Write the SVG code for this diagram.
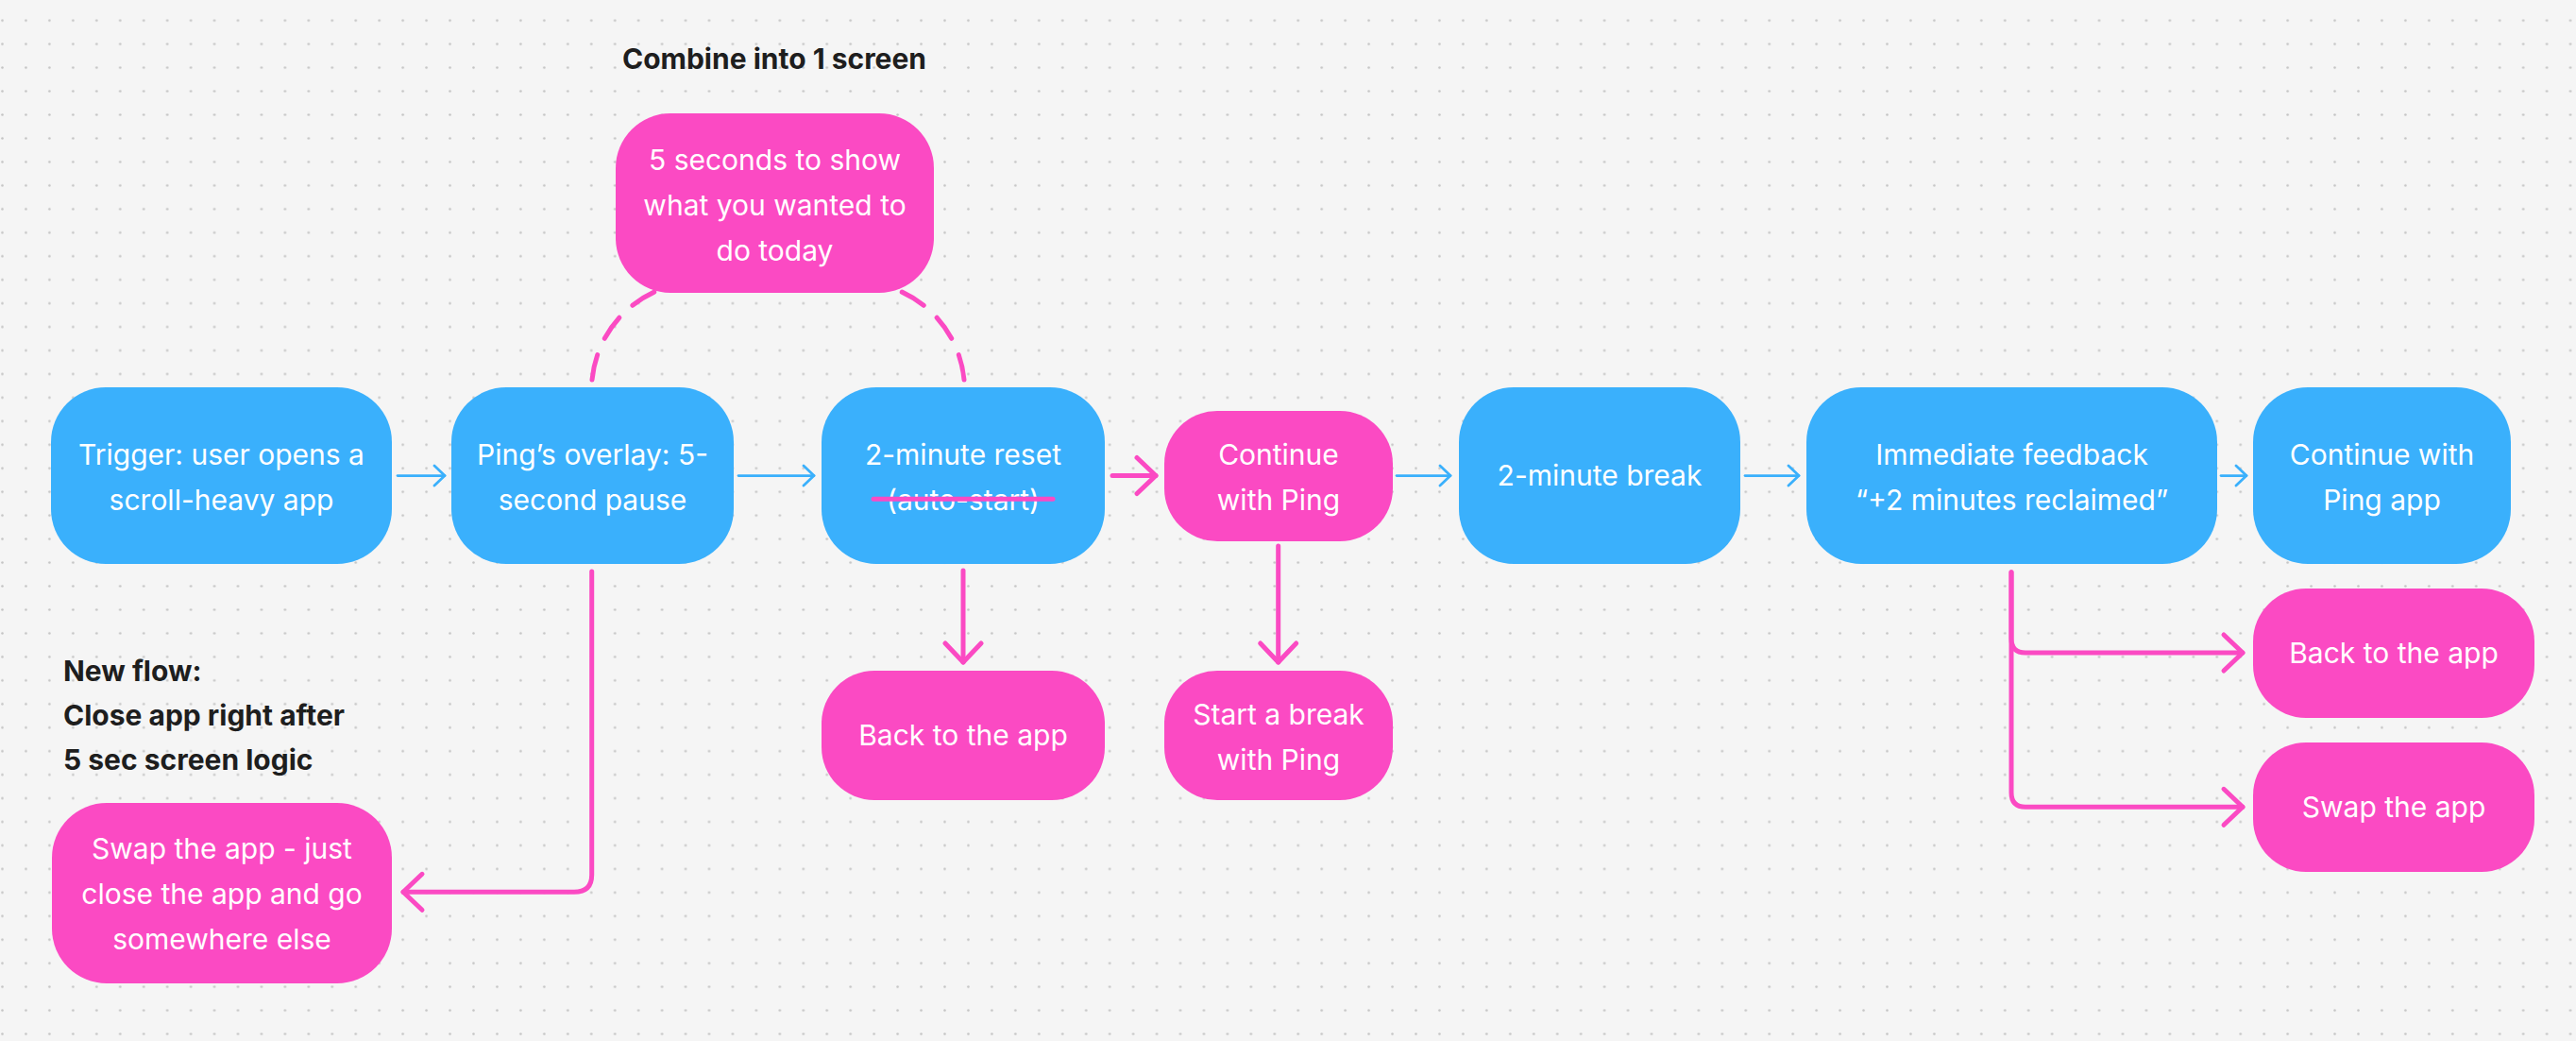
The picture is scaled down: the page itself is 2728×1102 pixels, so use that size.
<svg xmlns="http://www.w3.org/2000/svg" width="2728" height="1102" viewBox="0 0 2728 1102">
<defs>
<pattern id="dots" patternUnits="userSpaceOnUse" x="-9.975" y="9.225" width="24.95" height="24.95">
<circle cx="12.475" cy="12.475" r="1.3" fill="#c4c4c4"/>
</pattern>
<marker id="ab" markerUnits="userSpaceOnUse" viewBox="-20 -20 30 40" refX="0" refY="0" markerWidth="30" markerHeight="40" orient="auto" overflow="visible">
<path d="M -11 -10.5 L 0 0 L -11 10.5" fill="none" stroke="#3ab0fc" stroke-width="2.75" stroke-linecap="round" stroke-linejoin="round"/>
</marker>
<marker id="ap" markerUnits="userSpaceOnUse" viewBox="-30 -30 40 60" refX="0" refY="0" markerWidth="40" markerHeight="60" orient="auto" overflow="visible">
<path d="M -20 -19 L 0 0 L -20 19" fill="none" stroke="#fb4ac3" stroke-width="5" stroke-linecap="round" stroke-linejoin="round"/>
</marker>
</defs>
<style>
.blue{fill:#3ab0fc}
.pink{fill:#fb4ac3}
.t{font-family:Inter,"Noto Sans","Liberation Sans",sans-serif;font-size:30px;fill:#ffffff;text-anchor:middle}
.h{font-family:Inter,"Noto Sans","Liberation Sans",sans-serif;font-size:30px;font-weight:700;fill:#1e1e1e}
.cb{fill:none;stroke:#3ab0fc;stroke-width:2.75;stroke-linecap:round;marker-end:url(#ab)}
.cp{fill:none;stroke:#fb4ac3;stroke-width:5;stroke-linecap:round;stroke-linejoin:round;marker-end:url(#ap)}
.cd{fill:none;stroke:#fb4ac3;stroke-width:5;stroke-linecap:round;stroke-dasharray:27 19}
.strike{fill:none;stroke:#fb4ac3;stroke-width:5;stroke-linecap:round}
</style>
<rect width="2728" height="1102" fill="#f5f5f5"/>
<rect width="2728" height="1102" fill="url(#dots)"/>

<g id="connectors">
<path class="cd" d="M 627 402 A 114 114 0 0 1 703 305"/>
<path class="cd" d="M 1021 402 A 114 114 0 0 0 945 305"/>
<path class="cb" d="M 421 503.5 H 471"/>
<path class="cb" d="M 782 503.5 H 862"/>
<path class="cb" d="M 1479 503.5 H 1536"/>
<path class="cb" d="M 1848 503.5 H 1905"/>
<path class="cb" d="M 2352 503.5 H 2379"/>
<path class="cp" d="M 1178 503.5 H 1224"/>
<path class="cp" d="M 1020 604 V 701"/>
<path class="cp" d="M 1353.7 578 V 701"/>
<path class="cp" d="M 626.7 605 V 926 Q 626.7 944.3 608 944.3 H 427"/>
<path class="cp" d="M 2130 605.7 V 676 Q 2130 691 2145 691 H 2375"/>
<path class="cp" d="M 2130 605.7 V 839 Q 2130 854.3 2145 854.3 H 2375"/>
</g>

<g id="n-fivesec"><rect class="pink" x="652" y="120" width="337" height="190" rx="58"/>
<text class="t" x="820.5" y="180">5 seconds to show</text>
<text class="t" x="820.5" y="228">what you wanted to</text>
<text class="t" x="820.5" y="276">do today</text></g>

<g id="n-trigger"><rect class="blue" x="54" y="410" width="361" height="187" rx="58"/>
<text class="t" x="234.5" y="491.5">Trigger: user opens a</text>
<text class="t" x="234.5" y="539.5">scroll-heavy app</text></g>

<g id="n-overlay"><rect class="blue" x="478" y="410" width="299" height="187" rx="58"/>
<text class="t" x="627.5" y="491.5">Ping’s overlay: 5-</text>
<text class="t" x="627.5" y="539.5">second pause</text></g>

<g id="n-reset"><rect class="blue" x="870" y="410" width="300" height="187" rx="58"/>
<text class="t" x="1020" y="491.5">2-minute reset</text>
<text class="t" x="1020" y="539.5">(auto-start)</text>
<path class="strike" d="M 925 528.3 H 1115"/></g>

<g id="n-continue"><rect class="pink" x="1233" y="435" width="242" height="138" rx="56"/>
<text class="t" x="1354" y="491.5">Continue</text>
<text class="t" x="1354" y="539.5">with Ping</text></g>

<g id="n-break"><rect class="blue" x="1545" y="410" width="298" height="187" rx="58"/>
<text class="t" x="1694" y="514">2-minute break</text></g>

<g id="n-feedback"><rect class="blue" x="1913" y="410" width="435" height="187" rx="58"/>
<text class="t" x="2130.5" y="491.5">Immediate feedback</text>
<text class="t" x="2130.5" y="539.5">“+2 minutes reclaimed”</text></g>

<g id="n-continue-app"><rect class="blue" x="2386" y="410" width="273" height="187" rx="58"/>
<text class="t" x="2522.5" y="491.5">Continue with</text>
<text class="t" x="2522.5" y="539.5">Ping app</text></g>

<g id="n-back1"><rect class="pink" x="870" y="710" width="300" height="137" rx="56"/>
<text class="t" x="1020" y="788.5">Back to the app</text></g>

<g id="n-startbreak"><rect class="pink" x="1233" y="710" width="242" height="137" rx="56"/>
<text class="t" x="1354" y="766.5">Start a break</text>
<text class="t" x="1354" y="814.5">with Ping</text></g>

<g id="n-back2"><rect class="pink" x="2386" y="623" width="298" height="137" rx="56"/>
<text class="t" x="2535" y="701.5">Back to the app</text></g>

<g id="n-swap2"><rect class="pink" x="2386" y="786" width="298" height="137" rx="56"/>
<text class="t" x="2535" y="864.5">Swap the app</text></g>

<g id="n-swapjust"><rect class="pink" x="55" y="850" width="360" height="191" rx="58"/>
<text class="t" x="235" y="909">Swap the app - just</text>
<text class="t" x="235" y="957">close the app and go</text>
<text class="t" x="235" y="1005">somewhere else</text></g>

<g id="notes">
<text class="h" x="820" y="73" text-anchor="middle">Combine into 1 screen</text>
<text class="h" x="67" y="721">New flow:</text>
<text class="h" x="67" y="768">Close app right after</text>
<text class="h" x="67" y="815">5 sec screen logic</text>
</g>
</svg>
